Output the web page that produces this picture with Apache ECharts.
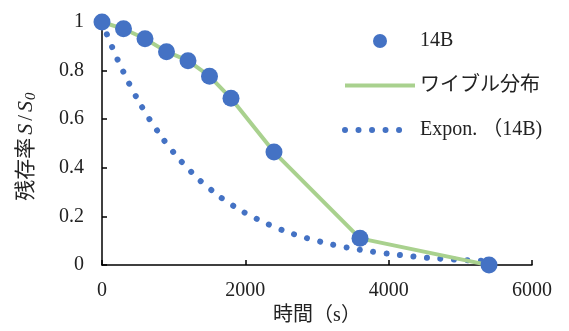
<!DOCTYPE html>
<html>
<head>
<meta charset="utf-8">
<script src="https://cdn.jsdelivr.net/npm/echarts@6/dist/echarts.min.js"></script>
<style>
  html, body { margin: 0; padding: 0; background: #fff; }
  #chart { width: 569px; height: 331px; }
</style>
</head>
<body>
<div id="chart"></div>
<script>
// Measured survival ratio S/S0 for sample 14B
const timeSec = [0, 300, 600, 900, 1200, 1500, 1800, 2400, 3600, 5400];
const survival14B = [1, 0.972, 0.931, 0.878, 0.841, 0.777, 0.686, 0.465, 0.11, 0.0];
// Weibull distribution fit evaluated at the same times
const weibullFit = [1, 0.972, 0.931, 0.878, 0.841, 0.777, 0.686, 0.465, 0.11, 0.0];
// Exponential trendline for 14B
const expTime = [0, 150, 300, 450, 600, 750, 900, 1200, 1500, 1800, 2100, 2400, 2700, 3000, 3300, 3600, 3900, 4200, 4500, 4800, 5100, 5400];
const expValues = [1, 0.891, 0.794, 0.707, 0.630, 0.562, 0.500, 0.397, 0.315, 0.250, 0.199, 0.158, 0.125, 0.100, 0.079, 0.063, 0.050, 0.040, 0.031, 0.025, 0.020, 0.016];
const xTicks = [0, 2000, 4000, 6000];
const yTicks = [0, 0.2, 0.4, 0.6, 0.8, 1];

const serif = "'Liberation Serif', 'Noto Sans CJK JP', serif";
const blue = '#4472C4';
const green = '#A9D18E';
const dotPattern = [0.01, 13.5];

const pair = (xs, ys) => xs.map((x, i) => [x, ys[i]]);

const chart = echarts.init(document.getElementById('chart'), null, { renderer: 'canvas' });
chart.setOption({
  animation: false,
  backgroundColor: '#fff',
  grid: { left: 102, right: 37, top: 22, bottom: 65, containLabel: false },
  legend: {
    orient: 'vertical',
    left: 337,
    top: 26,
    itemWidth: 70,
    itemHeight: 14,
    itemGap: 24.5,
    data: [
      { name: '14B', itemStyle: { opacity: 1 } },
      { name: 'ワイブル分布', itemStyle: { opacity: 0 },
        lineStyle: { color: green, width: 4 } },
      { name: 'Expon. （14B)', itemStyle: { opacity: 0 },
        lineStyle: { color: blue, width: 6, cap: 'round',
          type: [0.01, 13.5, 0.01, 13.5, 0.01, 13.5, 0.01, 13.5, 0.01, 40] } }
    ],
    textStyle: { fontFamily: serif, fontSize: 20, color: '#222' }
  },
  xAxis: {
    type: 'value',
    min: 0, max: 6000, interval: 2000,
    name: '時間（s）',
    nameLocation: 'middle',
    nameGap: 38,
    nameTextStyle: { fontFamily: serif, fontSize: 20, color: '#222' },
    axisLine: { show: true, lineStyle: { color: '#000', width: 1.5 } },
    axisTick: { show: true, inside: true, length: 5, lineStyle: { color: '#000', width: 1.5 } },
    axisLabel: { fontFamily: serif, fontSize: 20, color: '#222', margin: 16,
      formatter: v => xTicks.includes(v) ? String(v) : '' },
    splitLine: { show: false }
  },
  yAxis: {
    type: 'value',
    min: 0, max: 1, interval: 0.2,
    name: '{a|残存率}{i|S}{a|/}{i|S}{s|0}',
    nameLocation: 'middle',
    nameRotate: 90,
    nameGap: 63,
    nameTextStyle: {
      rich: {
        a: { fontFamily: serif, fontSize: 21, color: '#222', padding: [0, 2, 0, 2] },
        i: { fontFamily: serif, fontSize: 22, fontStyle: 'italic', color: '#222', padding: [0, 1, 0, 1] },
        s: { fontFamily: serif, fontSize: 15, fontStyle: 'italic', color: '#222', padding: [10, 8, 0, 0] }
      }
    },
    axisLine: { show: true, lineStyle: { color: '#000', width: 1.5 } },
    axisTick: { show: true, inside: true, length: 5, lineStyle: { color: '#000', width: 1.5 } },
    axisLabel: { fontFamily: serif, fontSize: 20, color: '#222', margin: 18,
      formatter: v => { const t = yTicks.find(k => Math.abs(k - v) < 1e-9); return t === undefined ? '' : String(t); } },
    splitLine: { show: false }
  },
  series: [
    {
      name: 'Expon. （14B)',
      type: 'line',
      smooth: true,
      symbol: 'none',
      color: blue,
      data: pair(expTime, expValues),
      lineStyle: { color: blue, width: 6, type: dotPattern, cap: 'round' },
      z: 1
    },
    {
      name: 'ワイブル分布',
      type: 'line',
      symbol: 'none',
      color: green,
      data: pair(timeSec, weibullFit),
      lineStyle: { color: green, width: 4 },
      z: 2
    },
    {
      name: '14B',
      type: 'scatter',
      symbol: 'circle',
      symbolSize: 17,
      color: blue,
      itemStyle: { color: blue, opacity: 1 },
      data: pair(timeSec, survival14B),
      z: 3
    }
  ]
});
</script>
</body>
</html>
